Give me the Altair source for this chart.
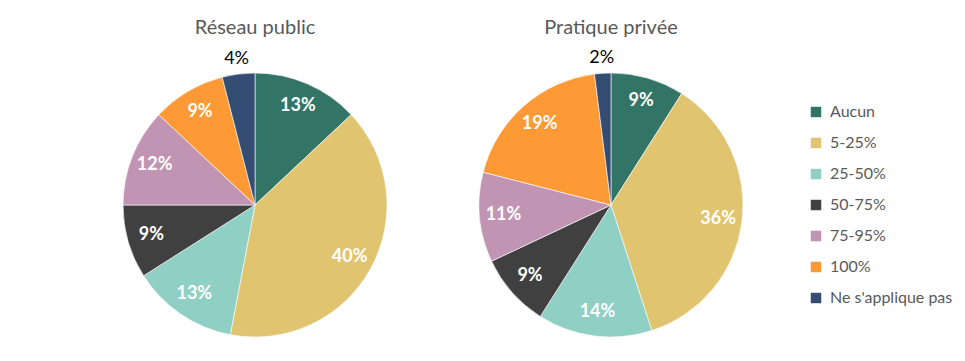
import altair as alt
import pandas as pd

categories = ["Aucun", "5-25%", "25-50%", "50-75%", "75-95%", "100%", "Ne s'applique pas"]
public_values = [13, 40, 13, 9, 12, 9, 4]
private_values = [9, 36, 14, 9, 11, 19, 2]
colors = ["#327566", "#E0C46F", "#8FCFC4", "#404040", "#C294B4", "#FD9A35", "#354C73"]
titles = ["Réseau public", "Pratique privée"]

rows = []
for g, vals in zip(titles, [public_values, private_values]):
    for i, (c, v) in enumerate(zip(categories, vals)):
        rows.append({"group": g, "cat": c, "idx": i, "value": v, "label": f"{v}%"})
df = pd.DataFrame(rows)

FONT = "Lato"
R = 132
centers = {titles[0]: (247, 197), titles[1]: (603, 197)}

color_scale = alt.Scale(domain=categories, range=colors)

layers = []
for gi, g in enumerate(titles):
    cx, cy = centers[g]
    base = alt.Chart(df).transform_filter(alt.datum.group == g)
    legend = alt.Legend(
        orient="none", legendX=800, legendY=96, title=None,
        symbolType="square", symbolSize=110, symbolStrokeWidth=0,
        labelFont=FONT, labelFontSize=16, labelColor="#595959",
        rowPadding=15, labelOffset=6, padding=0,
    ) if gi == 0 else None
    color_enc = alt.Color("cat:N", scale=color_scale, legend=legend, sort=categories)
    arc = base.mark_arc(x=cx, y=cy, outerRadius=R, stroke="#ffffff", strokeWidth=0.6).encode(
        theta=alt.Theta("value:Q", stack=True),
        color=color_enc,
        order=alt.Order("idx:Q", sort="ascending"),
    )
    outer = base.mark_text(
        x=cx, y=cy, radius=147, font=FONT, fontSize=18,
        color="black", align="center", baseline="middle",
    ).encode(
        theta=alt.Theta("value:Q", stack=True),
        order=alt.Order("idx:Q", sort="ascending"),
        text=alt.condition(alt.datum.value < 5, "label:N", alt.value("")),
    )
    inner = base.mark_text(
        x=cx, y=cy, radius=108, font=FONT, fontSize=18, fontWeight="bold",
        color="white", align="center", baseline="middle",
    ).encode(
        theta=alt.Theta("value:Q", stack=True),
        order=alt.Order("idx:Q", sort="ascending"),
        text=alt.condition(alt.datum.value >= 5, "label:N", alt.value("")),
    )
    title = alt.Chart(pd.DataFrame({"t": [g]})).mark_text(
        x=cx, y=20, font=FONT, fontSize=20, color="#595959",
        align="center", baseline="middle",
    ).encode(text="t:N")
    layers += [arc, inner, outer, title]

chart = alt.layer(*layers).properties(
    width=949, height=345, padding=0,
    autosize=alt.AutoSizeParams(type="none"),
).configure_view(stroke=None)

chart.save("out.html", embed_options={"renderer": "svg", "actions": False})
